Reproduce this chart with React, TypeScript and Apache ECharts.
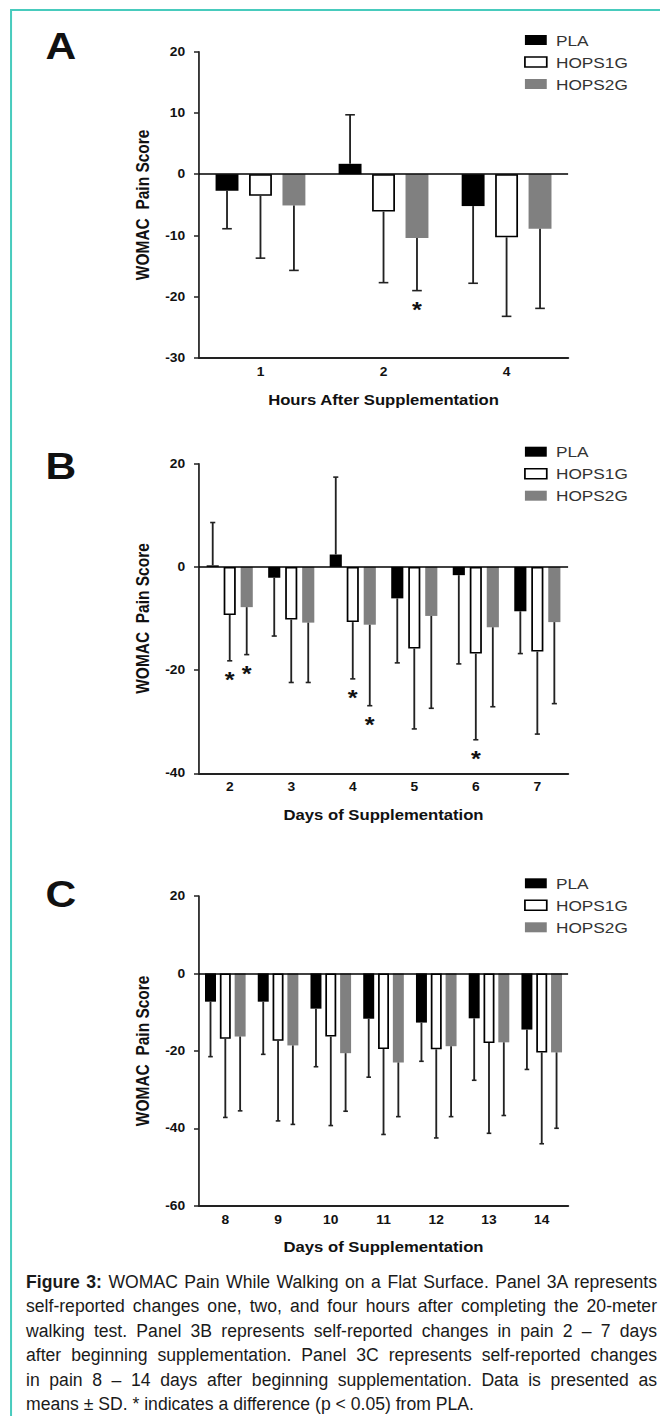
import React, { useEffect, useRef } from "react";
import * as echarts from "echarts";

const FONT = '"Liberation Sans", Arial, Helvetica, sans-serif';
// the reference figure is stretched horizontally; reproduce it with a CSS scaleX
const STRETCH = 1.15;
const CHART_W = 574;
const CHART_H = 1416;

const SERIES_NAMES = ["PLA", "HOPS1G", "HOPS2G"];
const Y_AXIS_TITLE = "WOMAC  Pain Score";

// ---------- Panel A ----------
const A_CATEGORIES = ["1", "2", "4"];
const A_PLA = [-2.7, 1.7, -5.2];
const A_PLA_SD = [6.2, 8.0, 12.6];
const A_HOPS1G = [-3.5, -6.1, -10.3];
const A_HOPS1G_SD = [10.2, 11.6, 12.9];
const A_HOPS2G = [-5.1, -10.4, -8.9];
const A_HOPS2G_SD = [10.6, 8.6, 13.0];
const A_PLA_SIG = [0, 0, 0];
const A_HOPS1G_SIG = [0, 0, 0];
const A_HOPS2G_SIG = [0, 1, 0];
const A_Y_MIN = -30;
const A_Y_MAX = 20;
const A_Y_STEP = 10;
const A_X_TITLE = "Hours After Supplementation";

// ---------- Panel B ----------
const B_CATEGORIES = ["2", "3", "4", "5", "6", "7"];
const B_PLA = [0.3, -2.1, 2.4, -6.1, -1.6, -8.6];
const B_PLA_SD = [8.3, 11.3, 15.0, 12.5, 17.2, 8.2];
const B_HOPS1G = [-9.3, -10.2, -10.7, -15.8, -16.8, -16.4];
const B_HOPS1G_SD = [8.9, 12.2, 11.0, 15.6, 16.7, 16.0];
const B_HOPS2G = [-7.8, -10.8, -11.2, -9.5, -11.7, -10.7];
const B_HOPS2G_SD = [9.2, 11.6, 15.7, 17.9, 15.4, 15.8];
const B_PLA_SIG = [0, 0, 0, 0, 0, 0];
const B_HOPS1G_SIG = [1, 0, 1, 0, 1, 0];
const B_HOPS2G_SIG = [1, 0, 1, 0, 0, 0];
const B_Y_MIN = -40;
const B_Y_MAX = 20;
const B_Y_STEP = 20;
const B_X_TITLE = "Days of Supplementation";

// ---------- Panel C ----------
const C_CATEGORIES = ["8", "9", "10", "11", "12", "13", "14"];
const C_PLA = [-7.3, -7.3, -9.1, -11.7, -12.7, -11.6, -14.5];
const C_PLA_SD = [14.2, 13.6, 15.0, 15.1, 10.0, 16.0, 10.3];
const C_HOPS1G = [-16.9, -17.4, -16.3, -19.5, -19.6, -18.0, -20.4];
const C_HOPS1G_SD = [20.3, 20.7, 23.0, 22.1, 22.9, 23.3, 23.6];
const C_HOPS2G = [-16.3, -18.6, -20.6, -23.0, -18.8, -17.8, -20.4];
const C_HOPS2G_SD = [19.2, 20.4, 15.0, 14.0, 18.2, 18.9, 19.6];
const C_PLA_SIG = [0, 0, 0, 0, 0, 0, 0];
const C_HOPS1G_SIG = [0, 0, 0, 0, 0, 0, 0];
const C_HOPS2G_SIG = [0, 0, 0, 0, 0, 0, 0];
const C_Y_MIN = -60;
const C_Y_MAX = 20;
const C_Y_STEP = 20;
const C_X_TITLE = "Days of Supplementation";

const CAPTION_LINES = [
  "WOMAC Pain While Walking on a Flat Surface. Panel 3A represents",
  "self-reported changes one, two, and four hours after completing the 20-meter",
  "walking test. Panel 3B represents self-reported changes in pain 2 \u2013 7 days",
  "after beginning supplementation. Panel 3C represents self-reported changes",
  "in pain 8 \u2013 14 days after beginning supplementation. Data is presented as",
  "means \u00b1 SD. * indicates a difference (p < 0.05) from PLA.",
];
const CAPTION_LEAD = "Figure 3:";

// ---------- layout (internal, unstretched coordinates) ----------
const GRID_LEFT = 173;
const GRID_WIDTH = 321;
const LEGEND_LEFT = 455.7;

const PANELS = [
  {
    letter: "A", letterY: 46, legendTop: 32.5, top: 51.7, bottom: 358,
    cats: A_CATEGORIES,
    values: [A_PLA, A_HOPS1G, A_HOPS2G],
    sds: [A_PLA_SD, A_HOPS1G_SD, A_HOPS2G_SD],
    sig: [A_PLA_SIG, A_HOPS1G_SIG, A_HOPS2G_SIG],
    yMin: A_Y_MIN, yMax: A_Y_MAX, yStep: A_Y_STEP, xTitle: A_X_TITLE,
    catGap: 0.27, barGap: 0.46,
  },
  {
    letter: "B", letterY: 466, legendTop: 444.2, top: 463.7, bottom: 773.3,
    cats: B_CATEGORIES,
    values: [B_PLA, B_HOPS1G, B_HOPS2G],
    sds: [B_PLA_SD, B_HOPS1G_SD, B_HOPS2G_SD],
    sig: [B_PLA_SIG, B_HOPS1G_SIG, B_HOPS2G_SIG],
    yMin: B_Y_MIN, yMax: B_Y_MAX, yStep: B_Y_STEP, xTitle: B_X_TITLE,
    catGap: 0.25, barGap: 0.4,
  },
  {
    letter: "C", letterY: 894, legendTop: 875.8, top: 896, bottom: 1205.7,
    cats: C_CATEGORIES,
    values: [C_PLA, C_HOPS1G, C_HOPS2G],
    sds: [C_PLA_SD, C_HOPS1G_SD, C_HOPS2G_SD],
    sig: [C_PLA_SIG, C_HOPS1G_SIG, C_HOPS2G_SIG],
    yMin: C_Y_MIN, yMax: C_Y_MAX, yStep: C_Y_STEP, xTitle: C_X_TITLE,
    catGap: 0.23, barGap: 0.35,
  },
];

const BAR_STYLES = [
  { color: "#000000" },
  { color: "#ffffff", borderColor: "#000000", borderWidth: 1.5 },
  { color: "#808080" },
];

const AXIS_COLOR = "#222";
const TEXT_COLOR = "#111";

function makeErrorRenderer(s: number, catGap: number, barGap: number) {
  return (params: any, api: any) => {
    const ci = api.value(0) as number;
    const v = api.value(1) as number;
    const sd = api.value(2) as number;
    const sig = api.value(3) as number;
    const band = (api.size([1, 0]) as number[])[0];
    const w = (band * (1 - catGap)) / (3 + 2 * barGap);
    const base = api.coord([ci, v]);
    const end = api.coord([ci, v >= 0 ? v + sd : v - sd]);
    const cx = base[0] + (s - 1) * w * (1 + barGap);
    const cap = w * 0.21;
    const children: any[] = [
      {
        type: "line",
        shape: { x1: cx, y1: base[1], x2: cx, y2: end[1] },
        style: { stroke: AXIS_COLOR, lineWidth: 1.6 },
      },
      {
        type: "line",
        shape: { x1: cx - cap, y1: end[1], x2: cx + cap, y2: end[1] },
        style: { stroke: AXIS_COLOR, lineWidth: 1.6 },
      },
    ];
    if (sig) {
      children.push({
        type: "text",
        x: cx,
        y: end[1] + 19,
        style: {
          text: "*",
          fill: TEXT_COLOR,
          font: `bold 22px ${FONT}`,
          align: "center",
          verticalAlign: "middle",
        },
      });
    }
    return { type: "group", children };
  };
}

function buildOption() {
  const grid: any[] = [];
  const xAxis: any[] = [];
  const yAxis: any[] = [];
  const series: any[] = [];
  const legend: any[] = [];
  const graphic: any[] = [];

  PANELS.forEach((p, i) => {
    grid.push({ left: GRID_LEFT, width: GRID_WIDTH, top: p.top, height: p.bottom - p.top });
    xAxis.push({
      type: "category",
      gridIndex: i,
      data: p.cats,
      axisLine: { onZero: false, lineStyle: { color: AXIS_COLOR, width: 2 } },
      axisTick: { alignWithLabel: true, length: 5, lineStyle: { color: AXIS_COLOR, width: 1.5 } },
      axisLabel: { color: TEXT_COLOR, fontWeight: "bold", fontSize: 12, margin: 8, fontFamily: FONT },
      name: p.xTitle,
      nameLocation: "middle",
      nameGap: 34,
      nameTextStyle: { color: TEXT_COLOR, fontWeight: "bold", fontSize: 14.5, fontFamily: FONT },
    });
    yAxis.push({
      type: "value",
      gridIndex: i,
      min: p.yMin,
      max: p.yMax,
      interval: p.yStep,
      axisLine: { show: true, lineStyle: { color: AXIS_COLOR, width: 1.5 } },
      axisTick: { show: true, length: 4.3, lineStyle: { color: AXIS_COLOR, width: 1.5 } },
      axisLabel: { color: TEXT_COLOR, fontWeight: "bold", fontSize: 12, margin: 12, fontFamily: FONT },
      splitLine: { show: false },
      name: Y_AXIS_TITLE,
      nameLocation: "middle",
      nameGap: 33,
      nameTextStyle: { color: TEXT_COLOR, fontWeight: "bold", fontSize: 15.5, fontFamily: FONT },
    });
    p.values.forEach((vals, s) => {
      const bar: any = {
        type: "bar",
        name: SERIES_NAMES[s],
        xAxisIndex: i,
        yAxisIndex: i,
        data: vals,
        barGap: `${Math.round(p.barGap * 100)}%`,
        barCategoryGap: `${Math.round(p.catGap * 100)}%`,
        itemStyle: BAR_STYLES[s],
        z: 2,
      };
      if (s === 0) {
        bar.markLine = {
          silent: true,
          symbol: ["none", "none"],
          label: { show: false },
          lineStyle: { color: "#000", width: 1.5, type: "solid" },
          emphasis: { disabled: true },
          data: [{ yAxis: 0 }],
        };
      }
      series.push(bar);
    });
    p.values.forEach((vals, s) => {
      series.push({
        type: "custom",
        xAxisIndex: i,
        yAxisIndex: i,
        z: 4,
        encode: { x: 0, y: 1 },
        data: vals.map((v, k) => [k, v, p.sds[s][k], p.sig[s][k]]),
        renderItem: makeErrorRenderer(s, p.catGap, p.barGap),
      });
    });
    legend.push({
      orient: "vertical",
      left: LEGEND_LEFT,
      top: p.legendTop,
      padding: 0,
      itemWidth: 19,
      itemHeight: 10,
      itemGap: 7,
      icon: "rect",
      selectedMode: false,
      textStyle: { fontSize: 15, color: "#333", fontFamily: FONT, padding: [0, 0, 0, 3] },
      data: SERIES_NAMES.map((n, s) => ({ name: n, itemStyle: BAR_STYLES[s] })),
    });
    graphic.push({
      type: "text",
      x: 39.6,
      y: p.letterY,
      style: {
        text: p.letter,
        font: `bold 37px ${FONT}`,
        fill: TEXT_COLOR,
        align: "left",
        verticalAlign: "middle",
      },
    });
  });

  // teal frame (top and left edges)
  graphic.push({
    type: "line",
    shape: { x1: 9.6, y1: 10, x2: CHART_W, y2: 10 },
    style: { stroke: "#48cbbd", lineWidth: 2 },
  });
  graphic.push({
    type: "line",
    shape: { x1: 9.6, y1: 9, x2: 9.6, y2: CHART_H },
    style: { stroke: "#48cbbd", lineWidth: 1.75 },
  });

  return {
    animation: false,
    backgroundColor: "#ffffff",
    textStyle: { fontFamily: FONT },
    grid,
    xAxis,
    yAxis,
    series,
    legend,
    graphic,
  };
}

export default function App() {
  const ref = useRef<HTMLDivElement>(null);
  useEffect(() => {
    if (!ref.current) return;
    const chart = echarts.init(ref.current, null, { renderer: "svg" });
    chart.setOption(buildOption() as any);
    return () => chart.dispose();
  }, []);

  return (
    <div
      style={{
        position: "absolute",
        left: 0,
        top: 0,
        width: 660,
        height: 1416,
        overflow: "hidden",
        background: "#fff",
      }}
    >
      <div
        style={{
          position: "absolute",
          left: 0,
          top: 0,
          width: CHART_W,
          height: CHART_H,
          transform: `scaleX(${STRETCH})`,
          transformOrigin: "0 0",
        }}
      >
        <div ref={ref} style={{ position: "absolute", left: 0, top: 0, width: CHART_W, height: CHART_H }} />
      </div>
      <div
        style={{
          position: "absolute",
          left: 26,
          top: 1269.5,
          width: 631,
          fontFamily: FONT,
          fontSize: 17.6,
          lineHeight: "24.5px",
          color: "#1a1a1a",
        }}
      >
        {CAPTION_LINES.map((ln, i) => {
          const last = i === CAPTION_LINES.length - 1;
          return (
            <div
              key={i}
              style={{
                whiteSpace: "nowrap",
                textAlign: last ? "left" : "justify",
                textAlignLast: last ? "left" : "justify",
              }}
            >
              {i === 0 ? (
                <>
                  <b>{CAPTION_LEAD}</b> {ln}
                </>
              ) : (
                ln
              )}
            </div>
          );
        })}
      </div>
    </div>
  );
}
